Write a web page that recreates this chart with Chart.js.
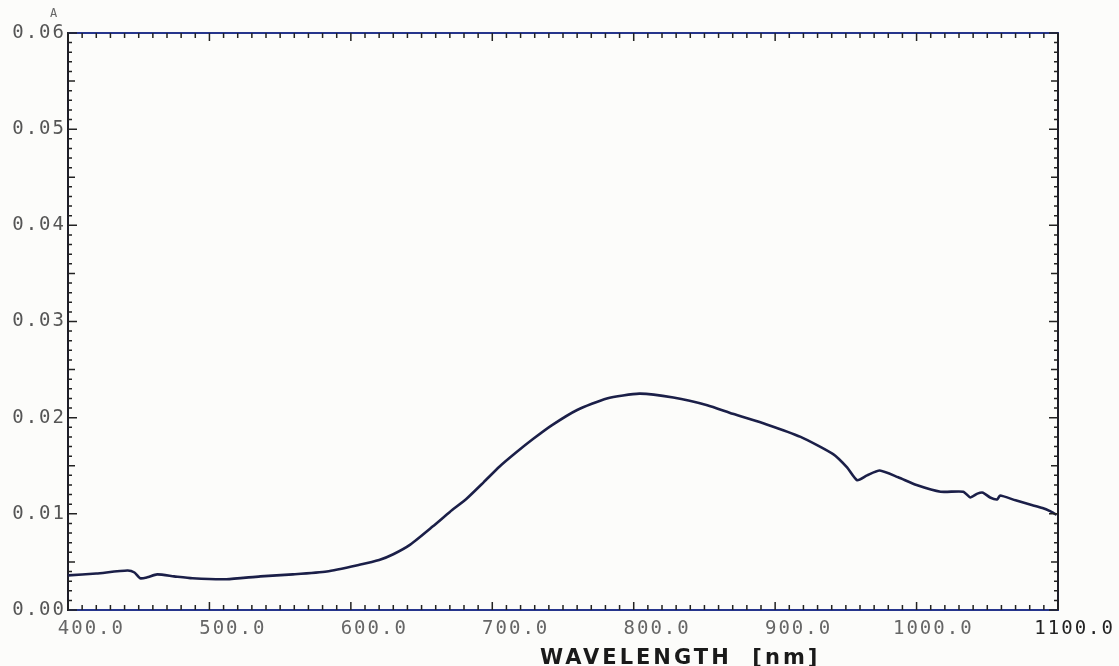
<!DOCTYPE html>
<html>
<head>
<meta charset="utf-8">
<script src="https://cdn.jsdelivr.net/npm/chart.js@4.4.1/dist/chart.umd.min.js"></script>
<style>
  html, body { margin: 0; padding: 0; background: #fcfcfa; }
</style>
</head>
<body>
<canvas id="specChart" width="1119" height="666"></canvas>
<script>
// spectrum
var wavelength = [400, 420, 442, 447, 451, 456, 463, 475, 488, 512, 536, 559, 583, 606, 620, 630, 642, 658, 670, 682,
  694, 705, 717, 729, 742, 760, 781, 804, 828, 852, 870, 894, 918, 941, 951, 958, 965, 974, 987, 1000,
  1017, 1033, 1038, 1043, 1047, 1052, 1057, 1059, 1070, 1082, 1089, 1094, 1099];
var absorbance = [0.0036, 0.0038, 0.0041, 0.0039, 0.0033, 0.0034, 0.0037, 0.0035, 0.0033, 0.0032, 0.0035, 0.0037, 0.0040, 0.0047, 0.0052, 0.0058, 0.0068, 0.0087, 0.0102, 0.0116,
  0.0133, 0.0149, 0.0164, 0.0178, 0.0192, 0.0208, 0.0220, 0.0225, 0.0221, 0.0213, 0.0204, 0.0193, 0.0180, 0.0162, 0.0148, 0.0135, 0.0140, 0.0145, 0.0138, 0.0130,
  0.0123, 0.0123, 0.0117, 0.0121, 0.0122, 0.0117, 0.0115, 0.0119, 0.0114, 0.0109, 0.0106, 0.0103, 0.0099];

var xTickLabels = ['400.0', '500.0', '600.0', '700.0', '800.0', '900.0', '1000.0', '1100.0'];
var yTickLabels = ['0.00', '0.01', '0.02', '0.03', '0.04', '0.05', '0.06'];
var xTitle = 'WAVELENGTH  [nm]';

var points = wavelength.map(function (w, i) { return { x: w, y: absorbance[i] }; });

// printer-style wide lettering for all chart text
var wideText = {
  id: 'wideText',
  beforeDraw: function (chart) { chart.ctx.letterSpacing = '2px'; },
  afterDraw: function (chart) { chart.ctx.letterSpacing = '0px'; }
};

// top/right frame, inward tick marks, axis title
var frameTicks = {
  id: 'frameTicks',
  afterDraw: function (chart) {
    var ctx = chart.ctx, a = chart.chartArea;
    var xs = chart.scales.x, ys = chart.scales.y;
    ctx.save();
    ctx.lineWidth = 2;
    ctx.strokeStyle = '#26358c';
    ctx.beginPath(); ctx.moveTo(a.left, a.top); ctx.lineTo(a.right + 1, a.top); ctx.stroke();
    ctx.strokeStyle = '#1d1d28';
    ctx.beginPath(); ctx.moveTo(a.right, a.top); ctx.lineTo(a.right, a.bottom); ctx.stroke();

    ctx.lineWidth = 1.5;
    ctx.strokeStyle = '#222';
    ctx.beginPath();
    for (var w = 400; w <= 1100; w += 10) {
      var px = xs.getPixelForValue(w);
      var len = w % 100 === 0 ? 8 : 5;
      ctx.moveTo(px, a.bottom); ctx.lineTo(px, a.bottom - len);
      ctx.moveTo(px, a.top); ctx.lineTo(px, a.top + len);
    }
    for (var i = 0; i <= 60; i++) {
      var py = ys.getPixelForValue(i / 1000);
      var l = i % 10 === 0 ? 9 : (i % 5 === 0 ? 7 : 4);
      ctx.moveTo(a.left, py); ctx.lineTo(a.left + l, py);
      ctx.moveTo(a.right, py); ctx.lineTo(a.right - l, py);
    }
    ctx.stroke();

    ctx.letterSpacing = '3px';
    ctx.fillStyle = '#1a1a1a';
    ctx.font = 'bold 21px "DejaVu Sans"';
    ctx.textBaseline = 'alphabetic';
    ctx.textAlign = 'left';
    ctx.fillText(xTitle, 540, 664);

    ctx.letterSpacing = '0px';
    ctx.fillStyle = '#666';
    ctx.font = '12px "DejaVu Sans Mono"';
    ctx.fillText('A', 50, 17);
    ctx.restore();
  }
};

var ctx = document.getElementById('specChart').getContext('2d');
var specChart = new Chart(ctx, {
  type: 'line',
  data: {
    datasets: [{
      data: points,
      borderColor: '#1b1f48',
      borderWidth: 2.6,
      pointRadius: 0,
      tension: 0.2,
      fill: false
    }]
  },
  options: {
    responsive: false,
    animation: false,
    layout: { padding: { top: 33, right: 61, left: 0, bottom: 0 } },
    plugins: {
      legend: { display: false },
      tooltip: { enabled: false }
    },
    scales: {
      x: {
        type: 'linear',
        min: 400,
        max: 1100,
        grid: { display: false, drawTicks: false },
        border: { color: '#26358c', width: 2 },
        ticks: {
          stepSize: 100,
          align: 'end',
          labelOffset: 57,
          padding: 8,
          font: { family: 'DejaVu Sans Mono', size: 19 },
          color: function (c) { return c.index === xTickLabels.length - 1 ? '#222' : '#666'; },
          callback: function (v, i) { return xTickLabels[i]; }
        },
        afterFit: function (s) { s.height = 56; }
      },
      y: {
        min: 0,
        max: 0.06,
        grid: { display: false, drawTicks: false },
        border: { color: '#1d1d28', width: 2 },
        ticks: {
          stepSize: 0.01,
          padding: 2,
          font: { family: 'DejaVu Sans Mono', size: 19 },
          color: '#555',
          callback: function (v, i) { return yTickLabels[i]; }
        },
        afterFit: function (s) { s.width = 68; }
      }
    }
  },
  plugins: [wideText, frameTicks]
});
</script>
</body>
</html>
